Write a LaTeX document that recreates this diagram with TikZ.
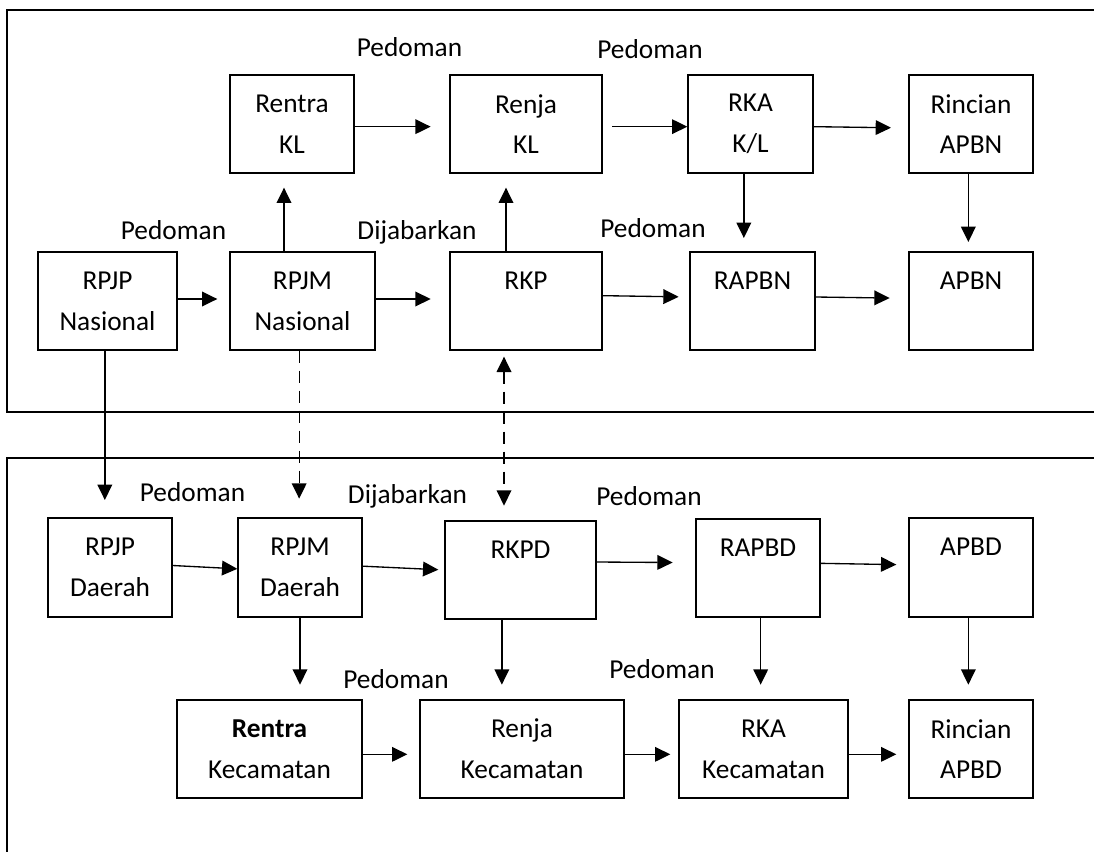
\documentclass[tikz,border=0pt]{standalone}
\usepackage{fontspec}
\setmainfont{Carlito}
\usetikzlibrary{arrows.meta}

\begin{document}
\begin{tikzpicture}[x=0.75pt,y=-0.75pt,
  >={Triangle[length=11.5pt,width=11pt]},
  box/.style={draw, line width=1pt, align=center, inner sep=0pt,
    minimum height=73.5pt, font=\fontsize{20.5}{30.5}\selectfont},
  lbl/.style={anchor=base, inner sep=0pt, font=\fontsize{20.5}{24}\selectfont},
  arr/.style={line width=1pt, ->},
  dasharr/.style={line width=1pt, dash pattern=on 9pt off 6pt}]

\useasboundingbox (0,0) rectangle (1094,852);

% the two frames, open on the right
\draw[line width=1.2pt] (1094,10) -- (7,10) -- (7,412) -- (1094,412);
\draw[line width=1.2pt] (1094,458) -- (7,458) -- (7,852);

% nasional
\node[box, minimum width=93pt] (rentrakl) at (292,124) {Rentra\\KL};
\node[box, minimum width=114pt] (renjakl) at (526,124) {Renja\\KL};
\node[box, minimum width=93.75pt] (rkakl) at (750.5,124) {RKA\\K/L};
\node[box, minimum width=93pt] (rincianapbn) at (971,124) {Rincian\\APBN};

\node[box, minimum width=104.25pt] (rpjpnas) at (107.5,301) {RPJP\\Nasional};
\node[box, minimum width=108.75pt] (rpjmnas) at (302.5,301) {RPJM\\Nasional};
\node[box, minimum width=114pt] (rkp) at (526,301) {RKP\\~};
\node[box, minimum width=93.75pt] (rapbn) at (752.5,301) {RAPBN\\~};
\node[box, minimum width=93pt] (apbn) at (971,301) {APBN\\~};

% daerah
\node[box, minimum width=93pt, minimum height=74.25pt] (rpjpd) at (110,567.5) {RPJP\\Daerah};
\node[box, minimum width=93pt, minimum height=74.25pt] (rpjmd) at (300,567.5) {RPJM\\Daerah};
\node[box, minimum width=113.25pt] (rkpd) at (520.5,570) {RKPD\\~};
\node[box, minimum width=93pt] (rapbd) at (758,568) {RAPBD\\~};
\node[box, minimum width=93pt, minimum height=74.25pt] (apbd) at (971,567.5) {APBD\\~};

\node[box, minimum width=138.75pt] (rentrakec) at (269.5,749) {\textbf{Rentra}\\Kecamatan};
\node[box, minimum width=153pt] (renjakec) at (522,749) {Renja\\Kecamatan};
\node[box, minimum width=126.75pt] (rkakec) at (763.5,749) {RKA\\Kecamatan};
\node[box, minimum width=93pt] (rincianapbd) at (971,749) {Rincian\\APBD};

% labels
\node[lbl] (pedoman1) at (409.5,57) {Pedoman};
\node[lbl] (pedoman2) at (650,59) {Pedoman};
\node[lbl] (pedoman3) at (173.5,239) {Pedoman};
\node[lbl] (dijabarkan1) at (417,239) {Dijabarkan};
\node[lbl] (pedoman4) at (653,237) {Pedoman};
\node[lbl] (pedoman5) at (192.5,501) {Pedoman};
\node[lbl] (dijabarkan2) at (407.5,503) {Dijabarkan};
\node[lbl] (pedoman6) at (649,505) {Pedoman};
\node[lbl] (pedoman7) at (396,688) {Pedoman};
\node[lbl] (pedoman8) at (662,678) {Pedoman};

% arrows, nasional
\draw[arr, shorten >=14pt] ([yshift=-2pt]rentrakl.east) -- ([yshift=-2pt]renjakl.west);
\draw[arr, shorten <=7pt] ([yshift=-2pt]renjakl.east) -- ([yshift=-2pt]rkakl.west);
\draw[arr, shorten >=13pt] ([yshift=-2pt]rkakl.east) -- ([yshift=-3pt]rincianapbn.west);
\draw[arr, shorten >=9pt] ([yshift=1.5pt]rpjpnas.east) -- ([yshift=1.5pt]rpjmnas.west);
\draw[arr, shorten >=14pt] ([yshift=1.5pt]rpjmnas.east) -- ([yshift=1.5pt]rkp.west);
\draw[arr, shorten >=8pt] ([yshift=4pt]rkp.east) -- ([yshift=3pt]rapbn.west);
\draw[arr, shorten >=14pt] ([yshift=3pt]rapbn.east) -- ([yshift=2pt]apbn.west);
\draw[arr, shorten >=10.5pt] ([xshift=-6pt]rentrakl.south |- rpjmnas.north) -- ([xshift=-6pt]rentrakl.south);
\draw[arr, shorten >=10.5pt] ([xshift=-15pt]rkp.north) -- ([xshift=-15pt]renjakl.south);
\draw[arr, shorten >=10pt] ([xshift=-5pt]rkakl.south) -- ([xshift=-5pt]rkakl.south |- rapbn.north);
\draw[arr, shorten >=7pt] ([xshift=-2pt]rincianapbn.south) -- ([xshift=-2pt]apbn.north);

% nasional to daerah
\draw[arr, shorten >=13pt] ([xshift=-2pt]rpjpnas.south) -- ([xshift=-2pt]rpjpnas.south |- rpjpd.north);
\draw[dasharr, ->, shorten >=14pt] ([xshift=-2.5pt]rpjmnas.south) -- ([xshift=-2.5pt]rpjmnas.south |- rpjmd.north);
\draw[dasharr, <->, shorten <=4.5pt, shorten >=11pt] ([xshift=-16.5pt]rkp.south) -- ([xshift=-16.5pt]rkp.south |- rkpd.north);

% arrows, daerah
\draw[arr] ([yshift=1.5pt]rpjpd.east) -- ([yshift=-1pt]rpjmd.west);
\draw[arr, shorten >=4.5pt] ([yshift=1pt]rpjmd.east) -- (rkpd.west);
\draw[arr, shorten >=17pt] ([yshift=6pt]rkpd.east) -- ([yshift=4pt]rapbd.west);
\draw[arr, shorten >=9pt] ([yshift=3.5pt]rapbd.east) -- ([yshift=2pt]apbd.west);
\draw[arr, shorten >=11pt] (rpjmd.south) -- (rpjmd.south |- rentrakec.north);
\draw[arr, shorten >=11pt] ([xshift=-14pt]rkpd.south) -- ([xshift=-14pt]rkpd.south |- renjakec.north);
\draw[arr, shorten >=11pt] ([xshift=2pt]rapbd.south) -- ([xshift=2pt]rapbd.south |- rkakec.north);
\draw[arr, shorten >=11pt] ([xshift=-2pt]apbd.south) -- ([xshift=-2pt]rincianapbd.north);
\draw[arr, shorten >=9pt] ([yshift=-4pt]rentrakec.east) -- ([yshift=-4pt]renjakec.west);
\draw[arr, shorten >=6pt] ([yshift=-4pt]renjakec.east) -- ([yshift=-4pt]rkakec.west);
\draw[arr, shorten >=9pt] ([yshift=-4pt]rkakec.east) -- ([yshift=-4pt]rincianapbd.west);
\end{tikzpicture}
\end{document}
